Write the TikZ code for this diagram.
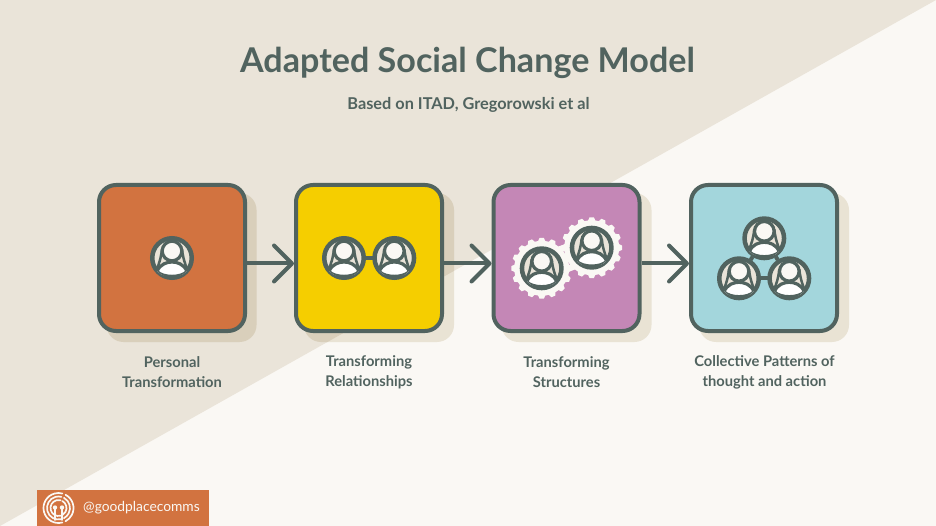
\documentclass[tikz,border=0pt]{standalone}
\usepackage{fontspec}
\setmainfont{Lato}
\usetikzlibrary{arrows.meta}
\definecolor{beige}{HTML}{EAE4D9}
\definecolor{paper}{HTML}{FAF8F4}
\definecolor{shadowdark}{HTML}{D9CFBB}
\definecolor{shadowlight}{HTML}{E9E3D4}
\definecolor{slate}{HTML}{51635F}
\definecolor{cOrange}{HTML}{D27340}
\definecolor{cYellow}{HTML}{F5CE00}
\definecolor{cPurple}{HTML}{C487B6}
\definecolor{cTeal}{HTML}{A3D6DC}
\tikzset{
  x=1pt,y=-1pt,
  stagebox/.style={draw=slate,line width=4pt,rounded corners=17pt,minimum width=146pt,minimum height=146pt,inner sep=0pt,outer sep=2pt},
  flowarrow/.style={draw=slate,line width=4pt,-{Straight Barb[length=18pt,width=36pt,line width=4pt,round=false]}},
  caption/.style={align=center,text=slate,font=\fontsize{14.7}{20}\selectfont\bfseries},
  ring/.style={circle,draw=slate,fill=beige,line width=4.5pt,minimum size=39.5pt,inner sep=0pt,outer sep=2pt},
  link/.style={draw=slate,line width=4pt},
  logoarc/.style={draw=paper,line width=1.7pt,line cap=round}
}
% name, x, y
\newcommand{\personicon}[3]{%
  \node[ring] (#1) at (#2,#3) {};
  \begin{scope}[shift={(#2,#3)}]
    \clip (0,0) circle (19.6);
    \draw[draw=slate,line width=2.5pt] (-15.5,12) .. controls (-13,6) and (-11,0) .. (-10,-9);
    \draw[draw=slate,line width=2.5pt] (15.5,12) .. controls (13,6) and (11,0) .. (10,-9);
    \draw[fill=white,draw=slate,line width=3.2pt] (-15,13.5) .. controls (-12,6) and (-5,4) .. (0,4) .. controls (5,4) and (12,6) .. (15,13.5) .. controls (9,20) and (-9,20) .. (-15,13.5) -- cycle;
    \draw[fill=paper,draw=slate,line width=3.2pt] (0,-7) circle (9.8);
  \end{scope}
}
% x, y
\newcommand{\gearshape}[2]{%
  \fill[paper,shift={(#1,#2)}] (-7.5:27.5) \foreach \i in {0,...,15} {
    -- (\i*22.5-7.5:27.5) -- (\i*22.5-4:30.5) -- (\i*22.5+4:30.5) -- (\i*22.5+7.5:27.5)
  } -- cycle;
}
\begin{document}
\begin{tikzpicture}
\useasboundingbox (0,0) rectangle (936,526);
\fill[paper] (0,0) rectangle (936,526);
\fill[beige] (0,0) -- (936,0) -- (0,526) -- cycle;
% shadows
\foreach \sx in {106.5,304,501.5,699}
  \fill[shadowlight,rounded corners=17pt] (\sx,193) rectangle ++(150,149);
\begin{scope}
  \clip (0,0) -- (936,0) -- (0,526) -- cycle;
  \foreach \sx in {106.5,304,501.5,699}
    \fill[shadowdark,rounded corners=17pt] (\sx,193) rectangle ++(150,149);
\end{scope}
% title
\node[text=slate,font=\fontsize{34.1}{40}\selectfont\bfseries] (title) at (467.5,62.5) {Adapted Social Change Model};
\node[text=slate,font=\fontsize{16.3}{18}\selectfont\bfseries] (subtitle) at (468.5,105) {Based on ITAD, Gregorowski et al};
% boxes
\node[stagebox,fill=cOrange] (s1) at (172,258) {};
\node[stagebox,fill=cYellow] (s2) at (369,258) {};
\node[stagebox,fill=cPurple] (s3) at (566.5,258) {};
\node[stagebox,fill=cTeal]   (s4) at (764,258) {};
% arrows
\draw[flowarrow] ([yshift=-5.5pt]s1.east) -- ([yshift=-5.5pt]s2.west);
\draw[flowarrow] ([yshift=-5.5pt]s2.east) -- ([yshift=-5.5pt]s3.west);
\draw[flowarrow] ([yshift=-5.5pt]s3.east) -- ([yshift=-5.5pt]s4.west);
% icons
\personicon{p1}{172}{258}
\personicon{p2a}{344}{258}
\personicon{p2b}{394.3}{258}
\draw[link] (p2a) -- (p2b);
\gearshape{541.7}{268.3}
\gearshape{591.7}{247.7}
\personicon{p3a}{541.7}{268.3}
\personicon{p3b}{591.7}{247.7}
\personicon{p4a}{764.3}{238.3}
\personicon{p4b}{739}{278.3}
\personicon{p4c}{789.3}{278.3}
\draw[link] (p4a) -- (p4b);
\draw[link] (p4a) -- (p4c);
\draw[link] (p4b) -- (p4c);
% captions
\node[caption] (c1) at (172,372) {Personal\\Transformation};
\node[caption] (c2) at (369,372) {Transforming\\Relationships};
\node[caption] (c3) at (566.5,372) {Transforming\\Structures};
\node[caption] (c4) at (764.5,372) {Collective Patterns of\\thought and action};
% logo
\fill[cOrange] (37,490) rectangle (209,526);
\foreach \r in {8,11.5,15}{
  \draw[logoarc] (58.5,508) ++(75:\r) arc (75:285:\r);
}
\foreach \r in {8,11.5,15}{
  \draw[logoarc] (58.5,508) ++(-62:\r) arc (-62:62:\r);
}
\fill[paper] (55,507.5) circle (2.2) (62,507.5) circle (2.2);
\draw[logoarc] (55,507.5) -- (55,520) (62,507.5) -- (62,520);
\node[text=paper,font=\fontsize{13.8}{16}\selectfont,anchor=west,inner sep=0pt] (handle) at (83,507.5) {@goodplacecomms};
\end{tikzpicture}
\end{document}
